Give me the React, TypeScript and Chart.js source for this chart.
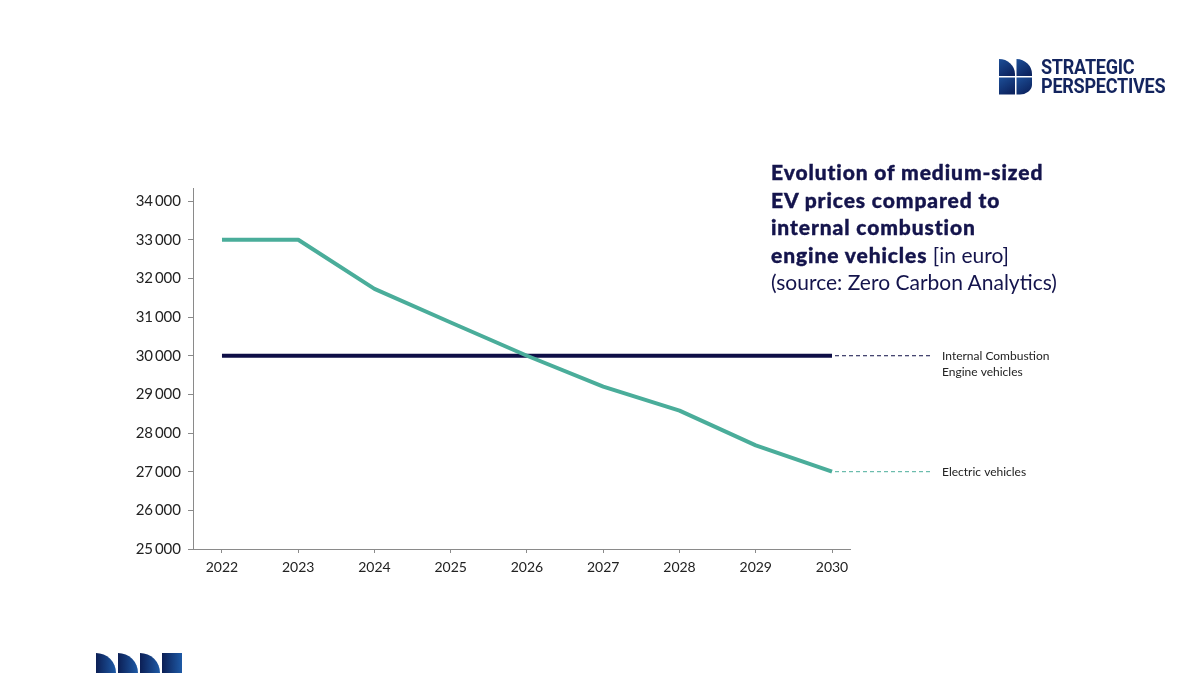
import React, { useEffect, useRef } from "react";
import { Chart, registerables } from "chart.js";

Chart.register(...registerables);

const years = [2022, 2023, 2024, 2025, 2026, 2027, 2028, 2029, 2030];
const evPrices = [33000, 33000, 31730, 30860, 30000, 29200, 28580, 27680, 27000];
const icePrices = [30000, 30000, 30000, 30000, 30000, 30000, 30000, 30000, 30000];
const yTicks = [25000, 26000, 27000, 28000, 29000, 30000, 31000, 32000, 33000, 34000];
const evLabel = ["Electric vehicles"];
const iceLabel = ["Internal Combustion", "Engine vehicles"];

const NAVY = "#0e0e46";
const TEAL = "#4aad9a";
const FONT = "Lato, 'Noto Sans', sans-serif";

const fmt = (v: number) => {
  const s = String(Math.round(v));
  return s.slice(0, s.length - 3) + "\u2009" + s.slice(s.length - 3);
};

const endLabels = {
  id: "endLabels",
  afterDatasetsDraw(chart: any) {
    const ctx = chart.ctx;
    const area = chart.chartArea;
    chart.data.datasets.forEach((ds: any, i: number) => {
      const meta = chart.getDatasetMeta(i);
      const last = meta.data[meta.data.length - 1];
      if (!last) return;
      const x0 = last.x + 3;
      const x1 = area.right + 82;
      const y = last.y;
      ctx.save();
      ctx.strokeStyle = ds.borderColor;
      ctx.lineWidth = 1;
      ctx.setLineDash([4, 3]);
      ctx.beginPath();
      ctx.moveTo(x0, y);
      ctx.lineTo(x1, y);
      ctx.stroke();
      ctx.setLineDash([]);
      ctx.fillStyle = "#222";
      ctx.font = "12px " + FONT;
      ctx.textBaseline = "middle";
      ctx.textAlign = "left";
      const lines: string[] = ds.endLabel;
      lines.forEach((t: string, k: number) => {
        ctx.fillText(t, x1 + 10, y + k * 16);
      });
      ctx.restore();
    });
  },
};

function ChartCanvas() {
  const ref = useRef<HTMLCanvasElement | null>(null);
  useEffect(() => {
    if (!ref.current) return;
    const chart = new Chart(ref.current, {
      type: "line",
      data: {
        datasets: [
          {
            label: "Electric vehicles",
            data: years.map((x, i) => ({ x, y: evPrices[i] })),
            borderColor: TEAL,
            borderWidth: 4,
            pointRadius: 0,
            tension: 0,
            borderJoinStyle: "round",
            endLabel: evLabel,
          } as any,
          {
            label: "Internal Combustion Engine vehicles",
            data: years.map((x, i) => ({ x, y: icePrices[i] })),
            borderColor: NAVY,
            borderWidth: 4,
            pointRadius: 0,
            tension: 0,
            endLabel: iceLabel,
          } as any,
        ],
      },
      options: {
        responsive: false,
        animation: false,
        devicePixelRatio: 1,
        layout: { padding: { left: 133, top: 188, right: 350, bottom: 86 } },
        plugins: { legend: { display: false }, tooltip: { enabled: false } },
        scales: {
          x: {
            type: "linear",
            min: 2021.62,
            max: 2030.236,
            afterBuildTicks: (s: any) => {
              s.ticks = years.map((v) => ({ value: v }));
            },
            afterFit: (s: any) => {
              s.height = 40;
            },
            grid: { drawOnChartArea: false, drawTicks: true, tickLength: 4, color: "#8a8a8a" },
            border: { color: "#8a8a8a", width: 1 },
            ticks: {
              color: "#222",
              font: { family: FONT, size: 14 },
              padding: 6,
              callback: (v: any) => String(v),
            },
          },
          y: {
            type: "linear",
            min: 25000,
            max: 34340,
            afterBuildTicks: (s: any) => {
              s.ticks = yTicks.map((v) => ({ value: v }));
            },
            afterFit: (s: any) => {
              s.width = 60;
            },
            grid: { drawOnChartArea: false, drawTicks: true, tickLength: 5, color: "#8a8a8a" },
            border: { color: "#8a8a8a", width: 1 },
            ticks: {
              color: "#222",
              font: { family: FONT, size: 15 },
              padding: 7,
              callback: (v: any) => fmt(Number(v)),
            },
          },
        },
      } as any,
      plugins: [endLabels],
    });
    return () => chart.destroy();
  }, []);
  return (
    <canvas
      ref={ref}
      width={1200}
      height={675}
      style={{ position: "absolute", left: 0, top: 0, width: 1200, height: 675 }}
    />
  );
}

function TopLogo() {
  return (
    <div style={{ position: "absolute", left: 999, top: 59, display: "flex", alignItems: "flex-start" }}>
      <svg width={33} height={36} viewBox="0 0 33 36">
        <defs>
          <linearGradient id="lg1" x1="0" y1="0" x2="0.6" y2="1">
            <stop offset="0" stopColor="#1d4f98" />
            <stop offset="1" stopColor="#0c2460" />
          </linearGradient>
        </defs>
        <path d="M0 0 A16 15 0 0 1 16 15 L16 17 L0 17 Z" fill="url(#lg1)" />
        <path d="M17.5 0 A16 15 0 0 1 33 15 L33 17 L17.5 17 Z" fill="url(#lg1)" />
        <path d="M0 18.5 L16 18.5 L16 35.5 L0 35.5 Z" fill="url(#lg1)" />
        <path d="M17.5 18.5 L33 18.5 L33 26 A12 10 0 0 1 21 35.5 L17.5 35.5 Z" fill="url(#lg1)" />
      </svg>
      <div
        style={{
          marginLeft: 9,
          marginTop: -1,
          fontFamily: "Roboto, 'Noto Sans', sans-serif",
          fontWeight: 700,
          fontSize: 21,
          lineHeight: "19px",
          color: "#13245e",
          transform: "scaleX(0.86)",
          transformOrigin: "left top",
          whiteSpace: "nowrap",
          letterSpacing: -0.3,
        }}
      >
        STRATEGIC
        <br />
        PERSPECTIVES
      </div>
    </div>
  );
}

function BottomLogo() {
  const shape = (x: number, sq: boolean, key: number) =>
    sq ? (
      <rect key={key} x={x} y={0} width={20} height={20} fill="url(#bg1)" />
    ) : (
      <path key={key} d={`M${x} 0 A20 20 0 0 1 ${x + 20} 20 L${x} 20 Z`} fill="url(#bg1)" />
    );
  return (
    <svg width={90} height={21} viewBox="0 0 90 21" style={{ position: "absolute", left: 96, top: 653 }}>
      <defs>
        <linearGradient id="bg1" x1="0" y1="0" x2="1" y2="0">
          <stop offset="0" stopColor="#0c1f55" />
          <stop offset="1" stopColor="#1e5aa6" />
        </linearGradient>
      </defs>
      {[0, 22, 44, 66].map((x, i) => shape(x, i === 3, i))}
    </svg>
  );
}

function Title() {
  const bold: React.CSSProperties = { fontWeight: 900, letterSpacing: 0.9, WebkitTextStroke: "0.4px #14144c" };
  return (
    <div
      style={{
        position: "absolute",
        left: 771,
        top: 158,
        fontFamily: FONT,
        fontSize: 21,
        lineHeight: "27.5px",
        color: "#14144c",
        whiteSpace: "nowrap",
      }}
    >
      <div style={bold}>Evolution of medium-sized</div>
      <div style={bold}>EV prices compared to</div>
      <div style={bold}>internal combustion</div>
      <div>
        <span style={bold}>engine vehicles</span> [in euro]
      </div>
      <div>(source: Zero Carbon Analytics)</div>
    </div>
  );
}

export default function App() {
  return (
    <div style={{ position: "fixed", left: 0, top: 0, width: 1200, height: 675, background: "#fff", overflow: "hidden" }}>
      <ChartCanvas />
      <Title />
      <TopLogo />
      <BottomLogo />
    </div>
  );
}
